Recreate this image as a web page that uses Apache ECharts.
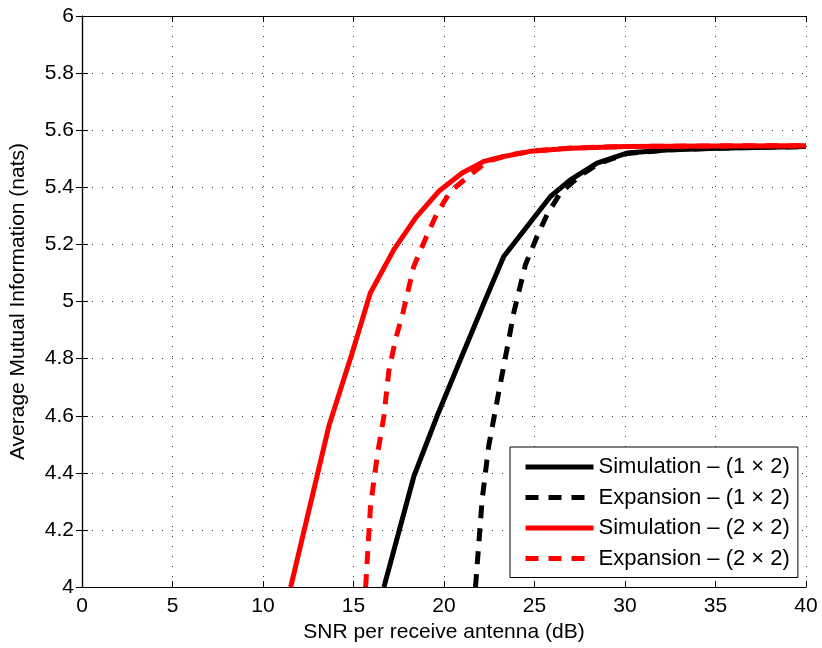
<!DOCTYPE html>
<html>
<head>
<meta charset="utf-8">
<script src="https://cdn.jsdelivr.net/npm/echarts@6/dist/echarts.min.js"></script>
<style>
  html, body { margin: 0; padding: 0; background: #fff; }
  #chart { width: 822px; height: 648px; }
</style>
</head>
<body>
<div id="chart"></div>
<script>
// Average mutual information vs. per-antenna SNR: simulated and series-expansion results
const xTicks = [0, 5, 10, 15, 20, 25, 30, 35, 40];
const yTicks = [4, 4.2, 4.4, 4.6, 4.8, 5, 5.2, 5.4, 5.6, 5.8, 6];

const seriesNames = [
  'Simulation \u2013 (1 \u00d7 2)',
  'Expansion \u2013 (1 \u00d7 2)',
  'Simulation \u2013 (2 \u00d7 2)',
  'Expansion \u2013 (2 \u00d7 2)'
];

// [SNR (dB), average mutual information (nats)]
const sim1x2 = [
  [16.68, 4.0], [18.34, 4.389], [19.62, 4.599], [20.91, 4.797], [22.29, 5.007],
  [23.30, 5.158], [24.59, 5.263], [25.88, 5.368], [26.98, 5.426], [28.45, 5.485],
  [30.1, 5.520], [32.3, 5.531], [35.07, 5.537], [40, 5.543]
];
const exp1x2 = [
  [21.74, 4.0], [22.11, 4.308], [22.47, 4.494], [23.02, 4.681], [23.58, 4.867],
  [23.85, 4.960], [24.50, 5.129], [25.14, 5.228], [25.69, 5.304], [26.43, 5.380],
  [27.5, 5.44], [28.6, 5.485], [30.1, 5.518], [32.3, 5.531], [35.07, 5.537], [40, 5.543]
];
const sim2x2 = [
  [11.53, 4.0], [13.64, 4.564], [14.93, 4.821], [15.93, 5.030], [17.23, 5.182],
  [18.43, 5.293], [19.71, 5.386], [21.0, 5.450], [22.2, 5.491], [23.3, 5.508],
  [24.77, 5.526], [27, 5.537], [30, 5.543], [35, 5.545], [40, 5.546]
];
const exp2x2 = [
  [15.67, 4.0], [15.94, 4.284], [16.31, 4.459], [16.68, 4.599], [16.95, 4.756],
  [17.32, 4.867], [17.73, 4.960], [18.33, 5.123], [19.0, 5.223], [19.62, 5.310],
  [20.36, 5.386], [21.46, 5.444], [22.38, 5.491], [23.5, 5.512], [25, 5.528],
  [27, 5.538], [30, 5.543], [35, 5.545], [40, 5.546]
];

const FONT = 'Liberation Sans, Arial, Helvetica, sans-serif';
const dotted = { color: '#333', width: 1, type: [1, 9] };
const LINE_W = 5;
const DASH = [13, 10];

function lineSeries(name, data, color, dashed) {
  return {
    name: name,
    type: 'line',
    data: data,
    symbol: 'none',
    animation: false,
    lineStyle: { color: color, width: LINE_W, type: dashed ? DASH : 'solid', cap: 'butt' },
    itemStyle: { color: color }
  };
}

const chart = echarts.init(document.getElementById('chart'), null, { renderer: 'canvas' });
chart.setOption({
  backgroundColor: '#fff',
  animation: false,
  grid: { left: 81, right: 16, top: 16, bottom: 60, containLabel: false },
  xAxis: [
    {
      type: 'value', min: xTicks[0], max: xTicks[xTicks.length - 1], interval: 5,
      name: 'SNR per receive antenna (dB)', nameLocation: 'middle', nameGap: 33,
      nameTextStyle: { fontFamily: FONT, fontSize: 21, color: '#000' },
      axisLine: { lineStyle: { color: '#000', width: 1.2 } },
      axisTick: { inside: true, length: 6, lineStyle: { color: '#000' } },
      axisLabel: { fontFamily: FONT, fontSize: 21, color: '#000', margin: 9 },
      splitLine: { show: true, lineStyle: dotted }
    },
    {
      type: 'value', position: 'top', min: xTicks[0], max: xTicks[xTicks.length - 1], interval: 5,
      axisLine: { show: true, lineStyle: { color: '#000', width: 1.2 } },
      axisTick: { inside: true, length: 6, lineStyle: { color: '#000' } },
      axisLabel: { show: false }, splitLine: { show: false }
    }
  ],
  yAxis: [
    {
      type: 'value', min: yTicks[0], max: yTicks[yTicks.length - 1], interval: 0.2,
      name: 'Average Mutual Information (nats)', nameLocation: 'middle', nameGap: 53,
      nameTextStyle: { fontFamily: FONT, fontSize: 21, color: '#000' },
      axisLine: { show: true, lineStyle: { color: '#000', width: 1.2 } },
      axisTick: { show: true, inside: true, length: 6, lineStyle: { color: '#000' } },
      axisLabel: {
        fontFamily: FONT, fontSize: 21, color: '#000', margin: 8,
        formatter: v => String(Math.round(v * 10) / 10)
      },
      splitLine: { show: true, lineStyle: dotted }
    },
    {
      type: 'value', position: 'right', min: yTicks[0], max: yTicks[yTicks.length - 1], interval: 0.2,
      axisLine: { show: true, lineStyle: { color: '#000', width: 1.2 } },
      axisTick: { show: true, inside: true, length: 6, lineStyle: { color: '#000' } },
      axisLabel: { show: false }, splitLine: { show: false }
    }
  ],
  legend: {
    data: seriesNames,
    orient: 'vertical',
    left: 510, top: 447,
    itemWidth: 68, itemHeight: 20, itemGap: 8.5,
    padding: [9, 8, 8, 13],
    backgroundColor: '#fff',
    borderColor: '#000', borderWidth: 1, borderRadius: 0,
    itemStyle: { color: 'rgba(0,0,0,0)', borderWidth: 0, opacity: 0 },
    lineStyle: { width: LINE_W, cap: 'butt' },
    textStyle: { fontFamily: FONT, fontSize: 22, color: '#000', lineHeight: 20 },
    selectedMode: false
  },
  series: [
    lineSeries(seriesNames[0], sim1x2, '#000000', false),
    lineSeries(seriesNames[1], exp1x2, '#000000', true),
    lineSeries(seriesNames[2], sim2x2, '#ff0000', false),
    lineSeries(seriesNames[3], exp2x2, '#ff0000', true)
  ]
});
</script>
</body>
</html>
